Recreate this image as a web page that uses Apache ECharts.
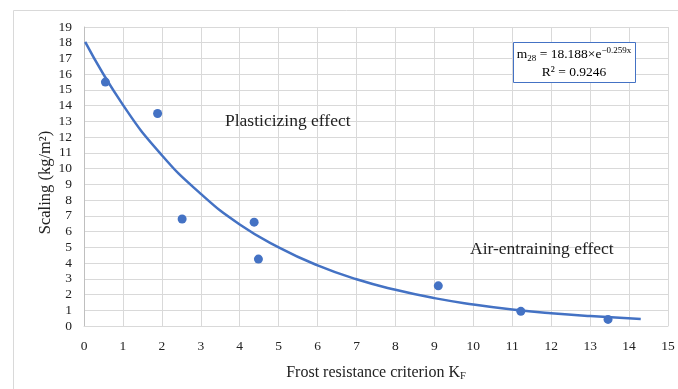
<!DOCTYPE html>
<html>
<head>
<meta charset="utf-8">
<script src="https://cdn.jsdelivr.net/npm/echarts@6/dist/echarts.min.js"></script>
<style>
  html, body { margin: 0; padding: 0; background: #fff; }
  #chart { width: 678px; height: 389px; }
</style>
</head>
<body>
<div id="chart"></div>
<script>
// measured points (K_F, scaling)
const kf = [0.55, 1.89, 2.52, 4.37, 4.48, 9.1, 11.22, 13.46];
const scaling = [15.5, 13.5, 6.8, 6.6, 4.25, 2.55, 0.93, 0.42];

// exponential trend line
const trendX = [0.03, 1, 2, 3, 4, 5, 6, 7, 8, 9, 10, 11, 12, 13, 14.3];
const trendY = [18.05, 14.05, 10.85, 8.4, 6.45, 5.0, 3.85, 2.97, 2.3, 1.77, 1.37, 1.05, 0.81, 0.63, 0.45];

const xTicks = [0, 15, 1];
const yTicks = [0, 19, 1];

const serif = "Liberation Serif";
const blue = "#4472C4";
const gridColor = "#d9d9d9";

const chart = echarts.init(document.getElementById("chart"));
const option = {
  backgroundColor: "#fff",
  animation: false,
  grid: { left: 84, right: 10, top: 27, bottom: 63 },
  xAxis: {
    type: "value",
    min: xTicks[0],
    max: xTicks[1],
    interval: xTicks[2],
    name: "{t|Frost resistance criterion K}{s|F}",
    nameLocation: "middle",
    nameGap: 37,
    nameTextStyle: {
      rich: {
        t: { fontFamily: serif, fontSize: 16, color: "#222", lineHeight: 19, verticalAlign: "middle" },
        s: { fontFamily: serif, fontSize: 10.5, color: "#222", lineHeight: 19, verticalAlign: "bottom" },
      },
    },
    axisLine: { lineStyle: { color: gridColor } },
    axisTick: { show: false },
    axisLabel: { fontFamily: serif, fontSize: 13.5, color: "#222", margin: 13 },
    splitLine: { lineStyle: { color: gridColor } },
  },
  yAxis: {
    type: "value",
    min: yTicks[0],
    max: yTicks[1],
    interval: yTicks[2],
    name: "Scaling (kg/m²)",
    nameLocation: "middle",
    nameGap: 30,
    nameMoveOverlap: false,
    nameTextStyle: { fontFamily: serif, fontSize: 16.5, color: "#222", padding: [0, 12, 0, 0] },
    axisLine: { show: true, lineStyle: { color: "#bfbfbf" } },
    axisTick: { show: false },
    axisLabel: { fontFamily: serif, fontSize: 13.5, color: "#222", margin: 12 },
    splitLine: { lineStyle: { color: gridColor } },
  },
  series: [
    {
      type: "line",
      data: trendX.map((x, i) => [x, trendY[i]]),
      smooth: true,
      showSymbol: false,
      lineStyle: { color: blue, width: 2.5 },
      z: 2,
    },
    {
      type: "scatter",
      data: kf.map((x, i) => [x, scaling[i]]),
      symbolSize: 9,
      itemStyle: { color: blue, opacity: 1 },
      z: 3,
    },
  ],
  graphic: [
    {
      type: "rect",
      shape: { x: 13.5, y: 10.5, width: 700, height: 400 },
      style: { fill: "none", stroke: gridColor, lineWidth: 1 },
      silent: true,
    },
    {
      type: "rect",
      shape: { x: 513.5, y: 42.5, width: 122, height: 40 },
      style: { fill: "#fff", stroke: blue, lineWidth: 1 },
      z: 10,
    },
    {
      type: "text",
      x: 574,
      y: 46,
      z: 11,
      style: {
        text: "{n|m}{b|28}{n| = 18.188×e}{p|−0.259x}\n{n|R² = 0.9246}",
        align: "center",
        rich: {
          n: { fontFamily: serif, fontSize: 13.5, color: "#222", lineHeight: 17.5, align: "center" },
          b: { fontFamily: serif, fontSize: 9, color: "#222", lineHeight: 17.5, verticalAlign: "bottom" },
          p: { fontFamily: serif, fontSize: 9, color: "#222", lineHeight: 17.5, verticalAlign: "top" },
        },
      },
    },
    {
      type: "text",
      x: 225,
      y: 112,
      z: 11,
      style: { text: "Plasticizing effect", fontFamily: serif, fontSize: 17.5, fill: "#222" },
    },
    {
      type: "text",
      x: 470,
      y: 240,
      z: 11,
      style: { text: "Air-entraining effect", fontFamily: serif, fontSize: 17.5, fill: "#222" },
    },
  ],
};
chart.setOption(option);
</script>
</body>
</html>
